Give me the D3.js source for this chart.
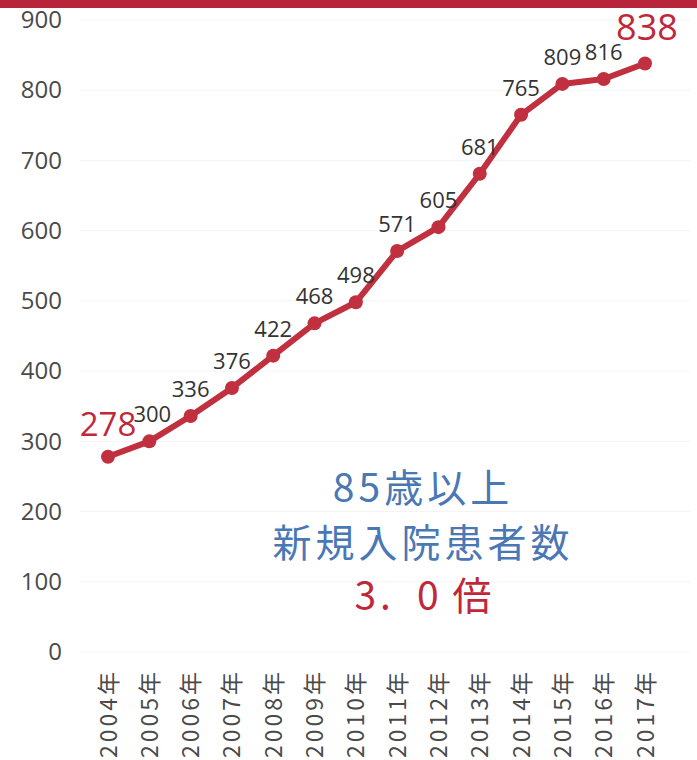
<!DOCTYPE html>
<html>
<head>
<meta charset="utf-8">
<script src="https://cdn.jsdelivr.net/npm/d3@7"></script>
<style>
  body { margin: 0; background: #fff; }
  svg { display: block; }
</style>
</head>
<body>
<div id="chart"></div>
<script>
// data
var years = ["2004", "2005", "2006", "2007", "2008", "2009", "2010",
             "2011", "2012", "2013", "2014", "2015", "2016", "2017"];
var patients = [278, 300, 336, 376, 422, 468, 498, 571, 605, 681, 765, 809, 816, 838];
var yTicks = [0, 100, 200, 300, 400, 500, 600, 700, 800, 900];
var noteLines = ["85歳以上", "新規入院患者数"];
var ratioParts = ["3", ".", "0", "倍"];

var width = 697, height = 760;
var red = "#c0303f";

var svg = d3.select("#chart")
  .append("svg")
    .attr("width", width)
    .attr("height", height);

// red band at the top
svg.append("rect")
  .attr("x", 0).attr("y", 0)
  .attr("width", width).attr("height", 8)
  .attr("fill", "#b8243a");

var x = d3.scalePoint()
  .domain(years)
  .range([108, 645]);

var y = d3.scaleLinear()
  .domain([0, 900])
  .range([652, 20]);

// faint grid lines
svg.append("g")
  .selectAll("line")
  .data(yTicks)
  .enter().append("line")
    .attr("x1", 80).attr("x2", 690)
    .attr("y1", function(d) { return y(d); })
    .attr("y2", function(d) { return y(d); })
    .attr("stroke", "#f4f4f4")
    .attr("stroke-width", 1);

// Y axis labels
var yAxis = svg.append("g")
  .attr("transform", "translate(62,0)")
  .call(d3.axisLeft(y).tickValues(yTicks).tickSize(0).tickPadding(0));
yAxis.select(".domain").remove();
yAxis.selectAll("text")
  .attr("font-family", "'Open Sans', sans-serif")
  .attr("font-size", 24)
  .attr("fill", "#4a4a4a");

// X axis labels, rotated
var xAxis = svg.append("g")
  .attr("transform", "translate(0,669)")
  .call(d3.axisBottom(x).tickSize(0).tickPadding(0).tickFormat(function(d) { return d + "年"; }));
xAxis.select(".domain").remove();
xAxis.selectAll("text")
  .attr("font-family", "'Noto Sans CJK JP', sans-serif")
  .attr("font-size", 23)
  .attr("letter-spacing", 3)
  .attr("fill", "#4a4a4a")
  .attr("text-anchor", "end")
  .attr("dy", "0.35em")
  .attr("y", 0)
  .attr("x", 0)
  .attr("transform", "rotate(-90)");

// the line
var line = d3.line()
  .x(function(d, i) { return x(years[i]); })
  .y(function(d) { return y(d); });

svg.append("path")
  .datum(patients)
  .attr("d", line)
  .attr("fill", "none")
  .attr("stroke", red)
  .attr("stroke-width", 6)
  .attr("stroke-linejoin", "round");

svg.append("g")
  .selectAll("circle")
  .data(patients)
  .enter().append("circle")
    .attr("cx", function(d, i) { return x(years[i]); })
    .attr("cy", function(d) { return y(d); })
    .attr("r", 7)
    .attr("fill", red);

// value labels; first and last are big and red
var last = patients.length - 1;
svg.append("g")
  .selectAll("text")
  .data(patients)
  .enter().append("text")
    .attr("x", function(d, i) { return x(years[i]) + (i == 1 ? 3 : i == last ? 2 : 0); })
    .attr("y", function(d, i) {
      if (i == 0) return y(d) - 21;
      if (i == last) return y(d) - 24;
      return y(d) - 19;
    })
    .attr("text-anchor", "middle")
    .attr("font-family", "'Open Sans', sans-serif")
    .attr("font-size", function(d, i) { return (i == 0) ? 33 : (i == last) ? 36 : 22; })
    .attr("fill", function(d, i) { return (i == 0 || i == last) ? "#c0283a" : "#333"; })
    .text(function(d) { return d; });

// note in the middle
svg.append("g")
  .selectAll("text")
  .data(noteLines)
  .enter().append("text")
    .attr("x", 423)
    .attr("y", function(d, i) { return 502 + i * 55; })
    .attr("text-anchor", "middle")
    .attr("font-family", "'Noto Sans CJK JP', sans-serif")
    .attr("font-size", 39)
    .attr("letter-spacing", 4)
    .attr("fill", "#4a78b5")
    .text(function(d) { return d; });

// "3.0倍" with uneven spacing like the reference
var ratioSpacing = [4, 26, 14, 0];
var ratio = svg.append("text")
  .attr("x", 423)
  .attr("y", 610)
  .attr("text-anchor", "middle")
  .attr("font-family", "'Noto Sans CJK JP', sans-serif")
  .attr("font-size", 39)
  .attr("fill", "#c0283a");
ratio.selectAll("tspan")
  .data(ratioParts)
  .enter().append("tspan")
    .attr("letter-spacing", function(d, i) { return ratioSpacing[i]; })
    .text(function(d) { return d; });
</script>
</body>
</html>
